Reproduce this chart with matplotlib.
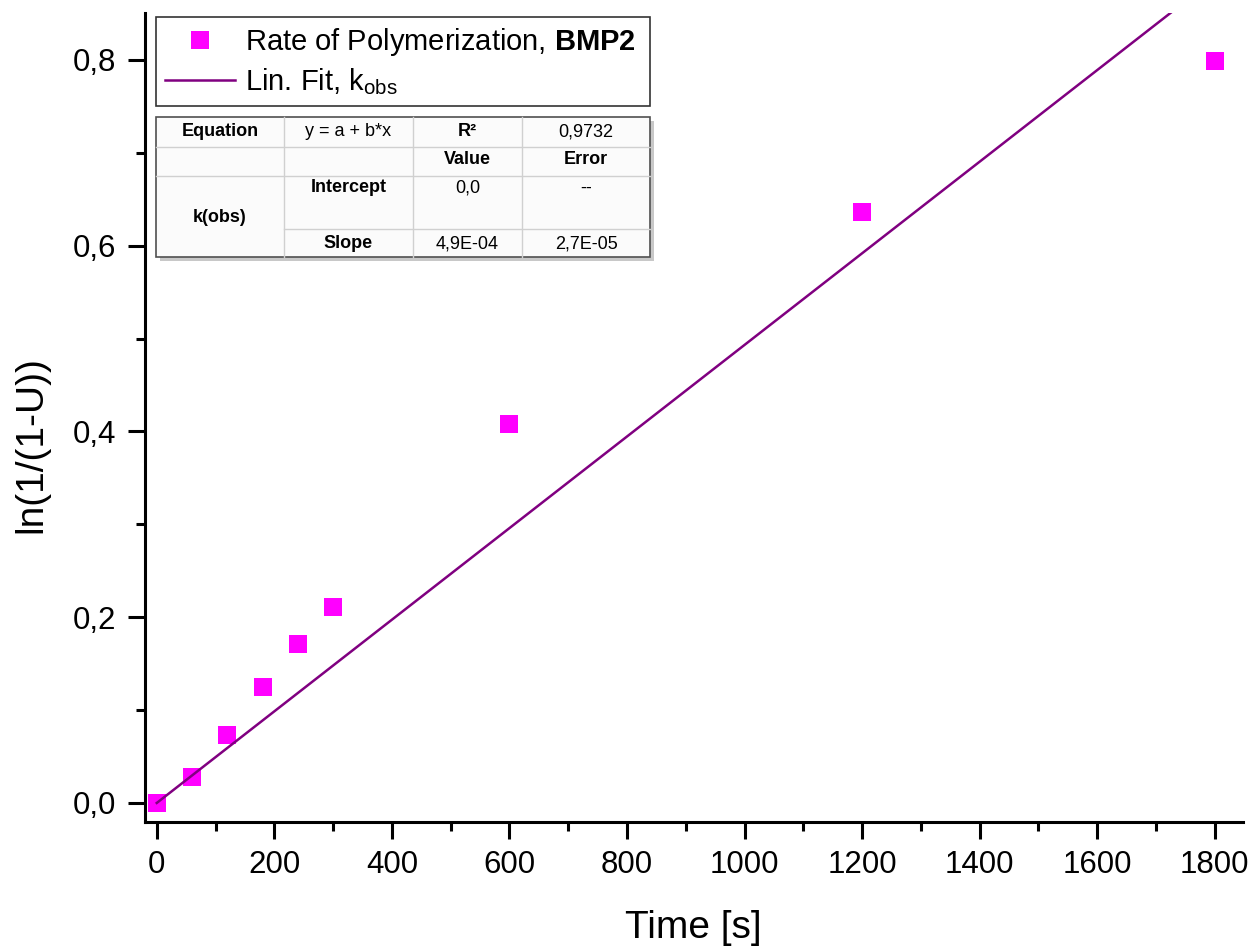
import numpy as np
import matplotlib
matplotlib.use('Agg')
import matplotlib.pyplot as plt
from matplotlib.lines import Line2D
from matplotlib.patches import Rectangle

plt.rcParams['font.family'] = ['Liberation Sans', 'DejaVu Sans']
plt.rcParams['mathtext.fontset'] = 'custom'
plt.rcParams['mathtext.rm'] = 'Liberation Sans'
plt.rcParams['mathtext.it'] = 'Liberation Sans'
plt.rcParams['mathtext.bf'] = 'Liberation Sans:bold'

# data
time_s = [0, 60, 120, 180, 240, 300, 600, 1200, 1800]
ln_conv = [0.0, 0.028, 0.073, 0.125, 0.171, 0.211, 0.408, 0.636, 0.799]

x_ticks = [0, 200, 400, 600, 800, 1000, 1200, 1400, 1600, 1800]
y_ticks = [0.0, 0.2, 0.4, 0.6, 0.8]
y_tick_labels = ['0,0', '0,2', '0,4', '0,6', '0,8']

label_points = 'Rate of Polymerization, $\\mathbf{BMP2}$'
label_fit = 'Lin. Fit, k$_{\\mathrm{obs}}$'

# fit-result table (rows of text, bold flags)
table_rows = [
    ['Equation', 'y = a + b*x', 'R²', '0,9732'],
    ['', '', 'Value', 'Error'],
    ['', 'Intercept', '0,0', '--'],
    ['', 'Slope', '4,9E-04', '2,7E-05'],
]
table_bold = [
    [True, False, True, False],
    [False, False, True, True],
    [False, True, False, False],
    [False, True, False, False],
]
merged_label = 'k(obs)'

W, H = 1252, 947
fig = plt.figure(figsize=(W / 100, H / 100), dpi=100)


def fx(x):
    return x / W


def fy(y):
    return 1 - y / H


ax = fig.add_axes([fx(145), fy(822), (1243 - 145) / W, (822 - 13) / H])

# linear fit through origin
x = np.array(time_s, dtype=float)
y = np.array(ln_conv, dtype=float)
slope = np.sum(x * y) / np.sum(x * x)
xf = np.array([0, 1900.0])

ax.plot(time_s, ln_conv, 's', color='#ff00ff', markersize=13.5,
        markeredgewidth=0, zorder=2)
ax.plot(xf, slope * xf, color='#800080', linewidth=1.8, zorder=3)

ax.set_xlim(-20, 1848)
ax.set_ylim(-0.0205, 0.8506)
ax.set_xticks(x_ticks)
ax.set_xticks(np.arange(100, 1800, 200), minor=True)
ax.set_yticks(y_ticks)
ax.set_yticklabels(y_tick_labels)
ax.set_yticks([0.1, 0.3, 0.5, 0.7], minor=True)

for s in ['top', 'right']:
    ax.spines[s].set_visible(False)
for s in ['left', 'bottom']:
    ax.spines[s].set_linewidth(2.2)

ax.tick_params(which='major', direction='out', length=12.5, width=2.2,
               labelsize=22.5, pad=8)
ax.tick_params(which='minor', direction='out', length=6.5, width=2.2)

fig.text(fx(693), fy(938), 'Time [s]', fontsize=28, ha='center', va='baseline')
fig.text(fx(31), fy(445), 'ln(1/(1-U))', fontsize=28, ha='center',
         va='center', rotation=90)

# legend
handles = [
    Line2D([], [], marker='s', linestyle='none', color='#ff00ff',
           markersize=12.5, markeredgewidth=0),
    Line2D([], [], color='#800080', linewidth=1.8),
]
leg = ax.legend(handles, [label_points, label_fit],
                loc='upper left',
                bbox_to_anchor=(fx(156), fy(17), (650 - 156) / W, 0.0),
                bbox_transform=fig.transFigure, mode='expand',
                fontsize=21, frameon=True, fancybox=False,
                edgecolor='black', borderaxespad=0, borderpad=0.3,
                handlelength=2.4, handletextpad=0.35, labelspacing=0.3)
leg.get_frame().set_linewidth(1.2)

# table
cols = [156, 284, 413, 522, 650]
rows = [117, 147, 176, 229, 257]
tw = (cols[-1] - cols[0]) / W
th = (rows[-1] - rows[0]) / H
fig.add_artist(Rectangle((fx(cols[0] + 4), fy(rows[-1] + 4)), tw, th,
                         transform=fig.transFigure, facecolor='#c8c8c8',
                         edgecolor='none', zorder=5))
fig.add_artist(Rectangle((fx(cols[0]), fy(rows[-1])), tw, th,
                         transform=fig.transFigure, facecolor='#fbfbfb',
                         edgecolor='#505050', linewidth=1.2, zorder=6))
for c in cols[1:-1]:
    fig.add_artist(Line2D([fx(c), fx(c)], [fy(rows[0]), fy(rows[-1])],
                          transform=fig.transFigure, color='#d0d0d0',
                          linewidth=1, zorder=7))
for r in rows[1:3]:
    fig.add_artist(Line2D([fx(cols[0]), fx(cols[-1])], [fy(r), fy(r)],
                          transform=fig.transFigure, color='#d0d0d0',
                          linewidth=1, zorder=7))
fig.add_artist(Line2D([fx(cols[1]), fx(cols[-1])], [fy(rows[3]), fy(rows[3])],
                      transform=fig.transFigure, color='#d0d0d0',
                      linewidth=1, zorder=7))

text_y = [132, 159, 188, 244]
for i, row in enumerate(table_rows):
    for j, txt in enumerate(row):
        if not txt:
            continue
        cx = (cols[j] + cols[j + 1]) / 2
        fig.text(fx(cx), fy(text_y[i]), txt, fontsize=13, ha='center',
                 va='center', fontweight='bold' if table_bold[i][j] else 'normal',
                 zorder=8)
fig.text(fx((cols[0] + cols[1]) / 2), fy(217), merged_label, fontsize=13,
         ha='center', va='center', fontweight='bold', zorder=8)

fig.savefig('out.png', dpi=100)
